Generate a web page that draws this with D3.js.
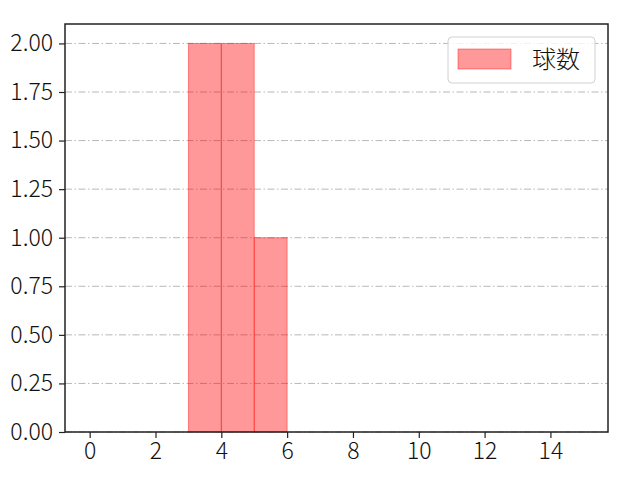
<!DOCTYPE html>
<html>
<head>
<meta charset="utf-8">
<script src="https://cdn.jsdelivr.net/npm/d3@7"></script>
<style>
  body { margin: 0; background: #fff; }
  text { font-family: "Noto Sans CJK JP", "DejaVu Sans", sans-serif; }
</style>
</head>
<body>
<svg id="chart" width="640" height="480"></svg>
<script>
// histogram bins (start, end) and counts
var binStarts = [3, 4, 5];
var binEnds = [4, 5, 6];
var counts = [2, 2, 1];
var xTicks = [0, 2, 4, 6, 8, 10, 12, 14];
var yTicks = [0, 0.25, 0.5, 0.75, 1.0, 1.25, 1.5, 1.75, 2.0];
var seriesName = "球数";

var margin = {left: 65, right: 32, top: 24, bottom: 48};
var width = 640 - margin.left - margin.right,
  height = 480 - margin.top - margin.bottom;

var svg = d3.select("#chart");
var g = svg.append("g").attr("transform", "translate(" + margin.left + "," + margin.top + ")");

var x = d3.scaleLinear().domain([-0.75, 15.75]).range([0, width]);
var y = d3.scaleLinear().domain([0, 2.1]).range([height, 0]);

// grid
g.selectAll(".grid")
  .data(yTicks)
  .enter()
  .append("line")
  .attr("x1", 0)
  .attr("x2", width)
  .attr("y1", d => y(d))
  .attr("y2", d => y(d))
  .attr("stroke", "#b0b0b0")
  .attr("stroke-width", 0.9)
  .attr("stroke-dasharray", "7,2.5,1.5,2.5");

var bins = counts.map((c, i) => ({x0: binStarts[i], x1: binEnds[i], n: c}));

g.selectAll(".bar")
  .data(bins)
  .enter()
  .append("rect")
  .attr("x", d => x(d.x0))
  .attr("y", d => y(d.n))
  .attr("width", d => x(d.x1) - x(d.x0))
  .attr("height", d => y(0) - y(d.n))
  .attr("fill", "rgba(255,0,0,0.4)")
  .attr("stroke", "rgba(255,0,0,0.4)")
  .attr("stroke-width", 1);

// axes
var xAxis = g.append("g")
  .attr("transform", "translate(0," + height + ")")
  .call(d3.axisBottom(x).tickValues(xTicks).tickSize(6).tickPadding(5).tickFormat(d3.format("d")));
var yAxis = g.append("g")
  .call(d3.axisLeft(y).tickValues(yTicks).tickSize(6).tickPadding(6).tickFormat(d3.format(".2f")));

[xAxis, yAxis].forEach(a => {
  a.select(".domain").remove();
  a.selectAll("line").attr("stroke", "#222").attr("stroke-width", 1.2);
  a.selectAll("text").attr("fill", "#111").style("font-size", "23px").style("font-weight", 300);
});

// frame
g.append("rect")
  .attr("width", width)
  .attr("height", height)
  .attr("fill", "none")
  .attr("stroke", "#222")
  .attr("stroke-width", 1.5);

// legend
var leg = svg.append("g").attr("transform", "translate(448,37)");
leg.append("rect")
  .attr("width", 147)
  .attr("height", 46)
  .attr("rx", 4)
  .attr("fill", "rgba(255,255,255,0.8)")
  .attr("stroke", "#d0d0d0");
leg.append("rect")
  .attr("x", 10)
  .attr("y", 12)
  .attr("width", 53)
  .attr("height", 20)
  .attr("fill", "rgba(255,0,0,0.4)")
  .attr("stroke", "rgba(255,0,0,0.4)");
leg.append("text")
  .attr("x", 84)
  .attr("y", 31)
  .style("font-size", "24px")
  .style("font-weight", 300)
  .attr("fill", "#111")
  .text(seriesName);
</script>
</body>
</html>
